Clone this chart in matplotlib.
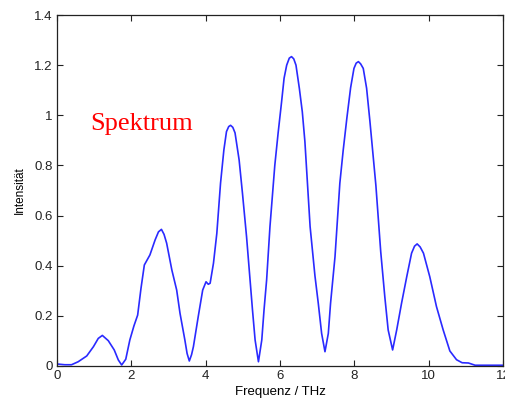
import matplotlib
matplotlib.use('Agg')
import matplotlib.pyplot as plt
from matplotlib.ticker import FuncFormatter

# Spektrum
freq = [0.00, 0.21, 0.39, 0.57, 0.80, 0.98, 1.11, 1.22, 1.38, 1.54, 1.65, 1.74,
        1.85, 1.96, 2.07, 2.17, 2.26, 2.35, 2.50, 2.64, 2.73, 2.81, 2.88, 2.95,
        3.09, 3.22, 3.31, 3.44, 3.50, 3.56, 3.62, 3.67, 3.80, 3.92, 4.01, 4.07,
        4.12, 4.21, 4.30, 4.40, 4.49, 4.56, 4.62, 4.67, 4.73, 4.79, 4.90, 4.99,
        5.10, 5.26, 5.33, 5.42, 5.51, 5.57, 5.64, 5.73, 5.86, 5.95, 6.04, 6.11,
        6.18, 6.25, 6.31, 6.37, 6.43, 6.52, 6.60, 6.67, 6.81, 6.94, 7.03, 7.12,
        7.21, 7.30, 7.36, 7.48, 7.61, 7.70, 7.80, 7.90, 7.99, 8.05, 8.11, 8.17,
        8.24, 8.33, 8.42, 8.58, 8.71, 8.82, 8.91, 9.03, 9.14, 9.27, 9.41, 9.54,
        9.62, 9.69, 9.77, 9.86, 10.03, 10.21, 10.39, 10.57, 10.75, 10.90, 11.07,
        11.25, 12.00]
intens = [0.008, 0.005, 0.005, 0.017, 0.040, 0.077, 0.110, 0.122, 0.101, 0.064, 0.024, 0.004,
          0.027, 0.104, 0.160, 0.203, 0.310, 0.403, 0.443, 0.503, 0.535, 0.545, 0.525, 0.490,
          0.383, 0.303, 0.210, 0.104, 0.050, 0.020, 0.045, 0.077, 0.197, 0.303, 0.336, 0.326,
          0.330, 0.410, 0.529, 0.729, 0.862, 0.935, 0.955, 0.960, 0.952, 0.930, 0.822, 0.689,
          0.516, 0.223, 0.104, 0.017, 0.104, 0.223, 0.343, 0.556, 0.800, 0.930, 1.050, 1.148,
          1.200, 1.228, 1.234, 1.225, 1.200, 1.108, 1.014, 0.895, 0.556, 0.360, 0.250, 0.130,
          0.057, 0.130, 0.250, 0.436, 0.729, 0.860, 0.990, 1.110, 1.187, 1.208, 1.214, 1.205,
          1.187, 1.108, 0.975, 0.720, 0.456, 0.276, 0.144, 0.064, 0.144, 0.250, 0.356, 0.450,
          0.478, 0.487, 0.475, 0.450, 0.356, 0.237, 0.144, 0.060, 0.025, 0.013, 0.012,
          0.003, 0.003]

xticks = [0, 2, 4, 6, 8, 10, 12]
yticks = [0, 0.2, 0.4, 0.6, 0.8, 1, 1.2, 1.4]

plt.rcParams['font.family'] = ['Liberation Sans', 'DejaVu Sans']

fig = plt.figure(figsize=(5.06, 4.0), dpi=100)
ax = fig.add_axes([57 / 506, 34 / 400, 446 / 506, 351 / 400])

ax.plot(freq, intens, color='#2a2aff', linewidth=1.2)

ax.set_xlim(0, 12)
ax.set_ylim(0, 1.4)
ax.set_xticks(xticks)
ax.set_yticks(yticks)
ax.yaxis.set_major_formatter(FuncFormatter(lambda v, p: '%g' % round(v, 2)))
ax.tick_params(direction='in', top=True, right=True, length=4, width=0.8,
               labelsize=9.5, colors='#222222', pad=3)
for s in ax.spines.values():
    s.set_linewidth(0.9)
    s.set_color('#222222')

ax.set_xlabel('Frequenz / THz', fontsize=9.5, labelpad=3)
ax.set_ylabel('Intensität', fontsize=8.5, labelpad=6)

ax.text(0.89, 0.94, 'Spektrum', color='red', fontsize=19,
        family=['Liberation Serif', 'DejaVu Serif'], va='baseline', ha='left')

fig.savefig('out.png', dpi=100)
